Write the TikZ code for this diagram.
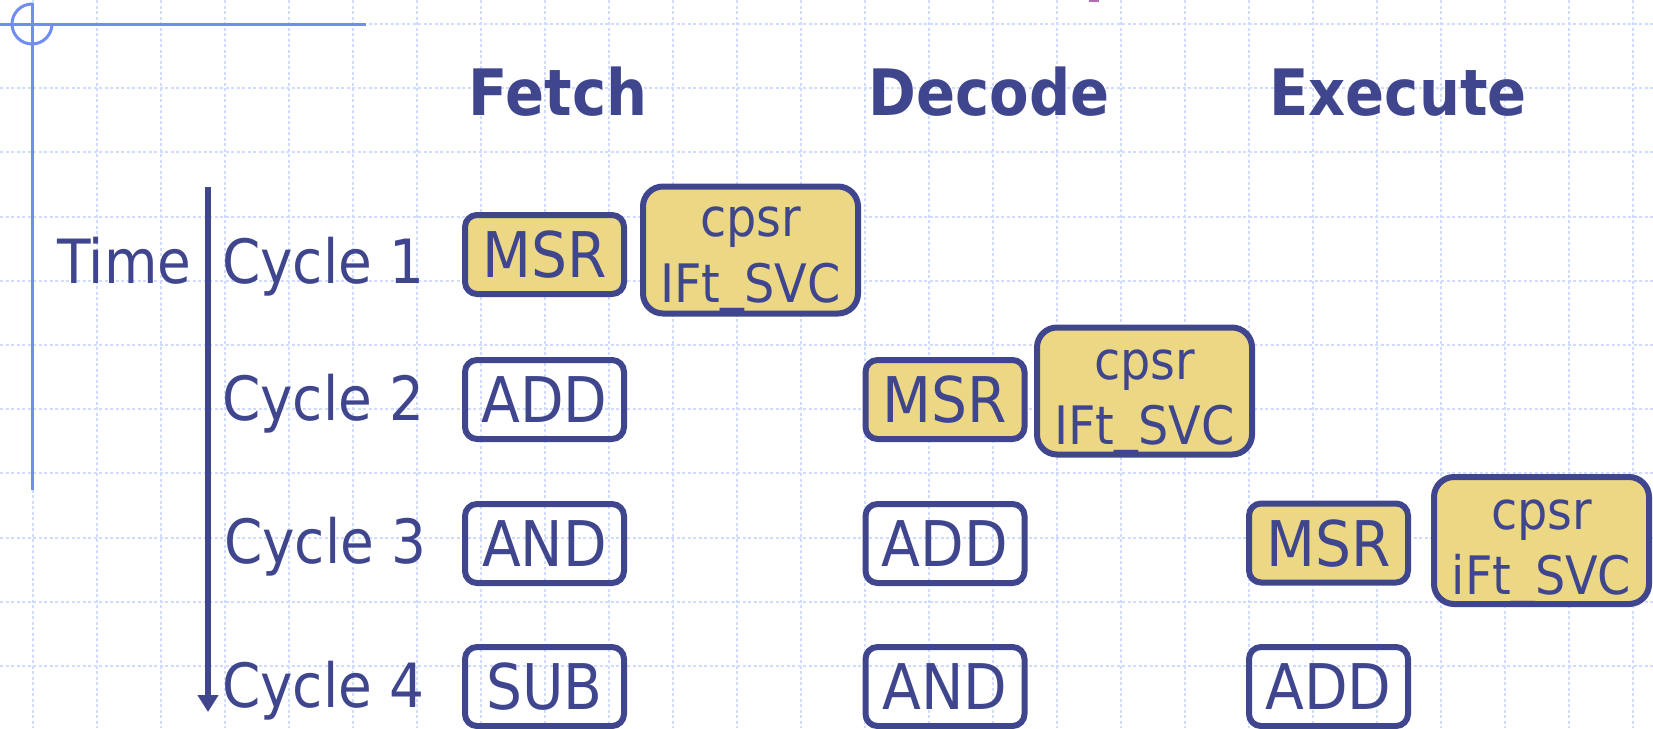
\documentclass[tikz,border=0pt]{standalone}
\usepackage{fontspec}
\setmainfont{DejaVu Sans Condensed}
\usetikzlibrary{arrows.meta,calc}
\definecolor{ink}{RGB}{64,70,142}
\definecolor{fillY}{RGB}{236,216,132}
\definecolor{deco}{RGB}{112,142,240}
\definecolor{gridc}{RGB}{208,220,255}
\definecolor{markc}{RGB}{176,110,176}
\newcommand{\usc}{\raisebox{2.5pt}{\_}}
\begin{document}
\begin{tikzpicture}[x=1pt,y=-1pt,
  gridline/.style={gridc, line width=2pt, dash pattern=on 3pt off 2.5pt},
  decoline/.style={deco, line width=3pt},
  op/.style={draw=ink, line width=6pt, rounded corners=12pt, minimum width=159pt, minimum height=79pt, inner sep=0pt, text=ink, font=\fontsize{63}{70}\selectfont, text height=46pt, text depth=0pt},
  hot/.style={op, fill=fillY},
  cpsrbox/.style={draw=ink, fill=fillY, line width=6pt, rounded corners=20pt, minimum width=215pt, minimum height=127pt, inner sep=0pt},
  cpsrtxt/.style={text=ink, font=\fontsize{53}{60}\selectfont, anchor=base, inner sep=0pt},
  head/.style={text=ink, font=\bfseries\fontsize{64}{70}\selectfont, anchor=base, inner sep=0pt},
  cyc/.style={text=ink, font=\fontsize{61}{70}\selectfont, anchor=base west, inner sep=0pt},
  timearrow/.style={draw=ink, line width=6pt, -{Triangle[width=20pt,length=17pt]}}
]
\useasboundingbox (0,0) rectangle (1653,728);
\fill[white] (0,0) rectangle (1653,728);
% grid
\foreach \i in {0,...,25} \draw[gridline] ({33+64*\i},0) -- ({33+64*\i},728);
\foreach \j in {0,...,10} \draw[gridline] (0,{24+64.2*\j}) -- (1653,{24+64.2*\j});
% decoration
\draw[decoline] (0,24) -- (366,24);
\draw[decoline] (32,3) -- (32,490);
\draw[decoline] (32,4) arc[start angle=90, end angle=360, radius=20pt];
\fill[markc] (1089,0) rectangle (1099,1.5);
% headers
\node[head] (hf) at (558,115) {Fetch};
\node[head] (hd) at (989,115) {Decode};
\node[head] (he) at (1398,115) {Execute};
% time labels
\node[cyc] (time) at (57,283) {Time};
\node[cyc] (cy1) at (222,283) {Cycle 1};
\node[cyc] (cy2) at (222,420) {Cycle 2};
\node[cyc] (cy3) at (224,563) {Cycle 3};
\node[cyc] (cy4) at (222,707) {Cycle 4};
\coordinate (ta) at (208,187);
\coordinate (tb) at (208,712);
\draw[timearrow] (ta) -- (tb);
% row 1
\node[hot] (f1) at (544.5,254.5) {MSR};
\node[cpsrbox] (p1) at (750.5,250) {};
\node[cpsrtxt] (p1a) at ($(p1.center)+(0,-14)$) {cpsr};
\node[cpsrtxt] (p1b) at ($(p1.center)+(0,52)$) {IFt\usc SVC};
% row 2
\node[op] (f2) at (544.5,399.5) {ADD};
\node[hot] (d2) at (945,399.5) {MSR};
\node[cpsrbox] (p2) at (1144.5,391) {};
\node[cpsrtxt] (p2a) at ($(p2.center)+(0,-12)$) {cpsr};
\node[cpsrtxt] (p2b) at ($(p2.center)+(0,53)$) {IFt\usc SVC};
% row 3
\node[op] (f3) at (544.5,543.5) {AND};
\node[op] (d3) at (945,543.5) {ADD};
\node[hot] (e3) at (1328.5,543) {MSR};
\node[cpsrbox] (p3) at (1541.5,540.5) {};
\node[cpsrtxt] (p3a) at ($(p3.center)+(0,-11)$) {cpsr};
\node[cpsrtxt] (p3b) at ($(p3.center)+(0,54)$) {iFt\usc SVC};
% row 4
\node[op] (f4) at (544.5,686.5) {SUB};
\node[op] (d4) at (945,686.5) {AND};
\node[op] (e4) at (1328.5,686.5) {ADD};
\end{tikzpicture}
\end{document}
